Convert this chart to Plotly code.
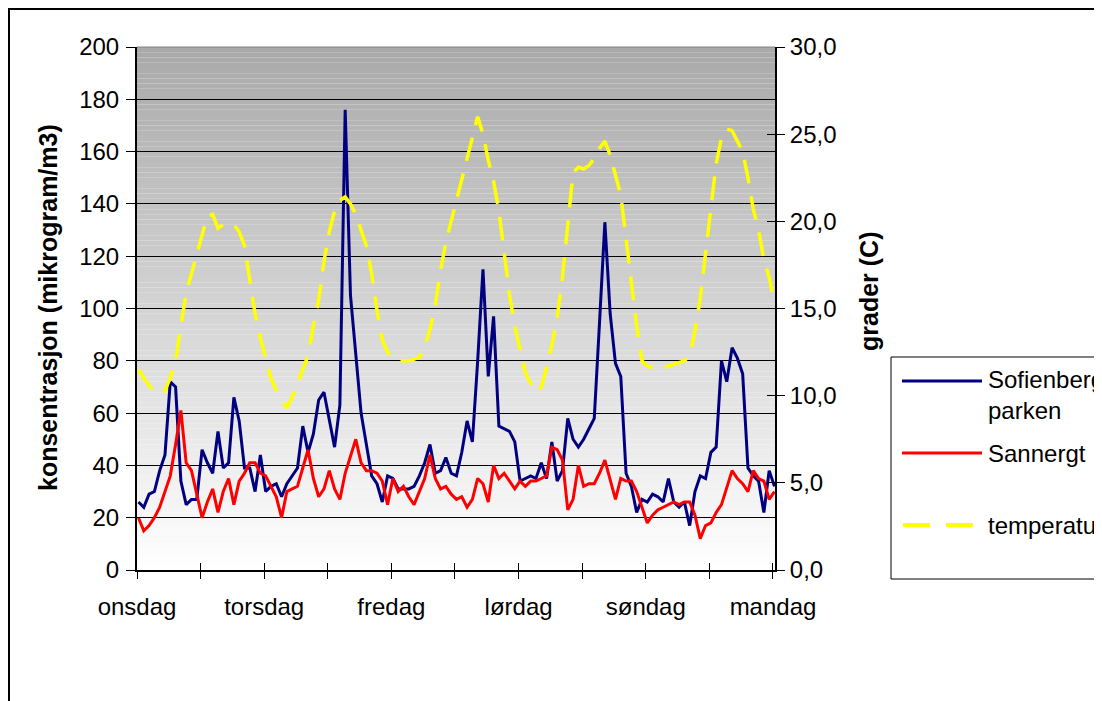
import plotly.graph_objects as go

# ---------------- data (hourly values, onsdag 00 -> mandag 00) ----------------
hours = list(range(121))
day_labels = ["onsdag", "torsdag", "fredag", "lørdag", "søndag", "mandag"]

sofienberg = [
    26, 24, 29, 30, 38, 44, 72, 70, 34, 25,
    27, 27, 46, 41, 37, 53, 39, 41, 66, 57,
    39, 39, 30, 44, 30, 32, 33, 28, 33, 36,
    39, 55, 45, 52, 65, 68, 57, 47, 63, 176,
    105, 82, 60, 48, 36, 33, 26, 36, 35, 31,
    31, 31, 32, 36, 41, 48, 37, 38, 43, 37,
    36, 45, 57, 49, 80, 115, 74, 97, 55, 54,
    53, 49, 34, 35, 36, 35, 41, 35, 49, 34,
    38, 58, 50, 47, 50, 54, 58, 95, 133, 98,
    79, 74, 37, 32, 22, 27, 26, 29, 28, 26,
    35, 26, 24, 26, 17, 30, 36, 35, 45, 47,
    80, 72, 85, 81, 75, 39, 36, 34, 22, 38,
    32,
]

sannergt = [
    20, 15, 17, 20, 24, 30, 36, 48, 61, 41,
    38, 29, 20, 26, 31, 22, 30, 35, 25, 34,
    37, 41, 41, 37, 36, 32, 28, 20, 30, 31,
    32, 39, 46, 35, 28, 31, 38, 31, 27, 37,
    44, 50, 41, 38, 38, 37, 34, 25, 35, 30,
    32, 28, 25, 30, 35, 44, 35, 31, 32, 29,
    27, 28, 24, 27, 35, 33, 26, 40, 35, 37,
    34, 31, 34, 32, 34, 34, 35, 36, 47, 46,
    42, 23, 27, 40, 32, 33, 33, 37, 42, 35,
    27, 35, 34, 34, 30, 24, 18, 21, 23, 24,
    25, 26, 25, 26, 26, 21, 12, 17, 18, 22,
    25, 32, 38, 35, 33, 30, 38, 35, 34, 27,
    30,
]

temperatur = [
    11.5, 11.0, 10.6, 10.2, 10.1, 10.3, 11.0, 12.0, 14.0, 15.9,
    17.0, 18.1, 19.1, 20.3, 20.4, 19.6, 19.8, 19.9, 19.8, 19.4,
    18.6, 16.7, 14.7, 13.3, 12.1, 11.0, 10.3, 9.8, 9.3, 9.9,
    10.7, 11.5, 12.3, 14.0, 15.5, 17.7, 19.4, 20.6, 21.2, 21.4,
    21.0, 20.4, 19.5, 18.6, 17.0, 14.9, 13.2, 12.5, 12.1, 12.0,
    12.0, 12.0, 12.1, 12.2, 12.8, 13.8, 15.2, 17.2, 18.8, 20.0,
    21.4, 22.5, 23.8, 25.0, 26.0, 25.0, 23.5, 22.3, 20.6, 18.2,
    15.8, 14.0, 12.6, 11.3, 10.7, 10.2, 10.5, 11.6, 12.9, 14.5,
    16.8, 20.0, 22.8, 23.1, 23.0, 23.2, 23.6, 24.2, 24.6, 23.8,
    22.6, 21.5, 19.0, 16.5, 14.0, 12.0, 11.7, 11.6, 11.5, 11.6,
    11.7, 11.8, 11.9, 12.0, 12.3, 13.7, 15.6, 18.3, 21.0, 23.3,
    24.8, 25.3, 25.2, 24.6, 24.0, 22.5, 20.7, 19.5, 17.8, 16.8,
    15.3,
]

left_ticks = list(range(0, 201, 20))
right_ticks = list(range(0, 31, 5))
right_ticktext = [f"{v},0" for v in right_ticks]

series_names = ["Sofienberg<br>parken", "Sannergt", "temperatur"]

# ---------------- styling ----------------
OFF = 8                       # page body margin of the html page
W, H = 1102 - OFF, 701 - OFF
# plot area in screen pixels
SL, SR, ST, SB = 137, 775, 47, 570
FONT = "Liberation Sans, Arial, sans-serif"
BLUE, RED, YELLOW = "#000080", "#FF0000", "#FFFF00"

X0, X1 = -0.28, 120.1
tick_pos = [12 * k + X0 for k in range(11)]
tick_txt = []
for k in range(11):
    tick_txt.append(day_labels[k // 2] if k % 2 == 0 else "")


def px_x(p):
    return (p - SL) / (SR - SL)


def px_y(p):
    return (SB - p) / (SB - ST)


fig = go.Figure()

fig.add_trace(go.Scatter(x=hours, y=sofienberg, mode="lines", name="Sofienberg-parken",
                         line=dict(color=BLUE, width=3), xaxis="x", yaxis="y"))
fig.add_trace(go.Scatter(x=hours, y=sannergt, mode="lines", name="Sannergt",
                         line=dict(color=RED, width=3), xaxis="x", yaxis="y"))
fig.add_trace(go.Scatter(x=hours, y=temperatur, mode="lines", name="temperatur",
                         line=dict(color=YELLOW, width=3.5, dash="24px,13px"),
                         xaxis="x", yaxis="y2"))
# helper traces so that the tick-only overlay axes get drawn
fig.add_trace(go.Scatter(x=[None], y=[None], xaxis="x2", yaxis="y", showlegend=False, hoverinfo="skip"))
fig.add_trace(go.Scatter(x=[None], y=[None], xaxis="x", yaxis="y3", showlegend=False, hoverinfo="skip"))
fig.add_trace(go.Scatter(x=[None], y=[None], xaxis="x", yaxis="y4", showlegend=False, hoverinfo="skip"))

tickfont = dict(family=FONT, size=24, color="black")

shapes = []
# background gradient (dark grey at top -> white at bottom)
n_bands = 100
for i in range(n_bands):
    v0 = 200 * i / n_bands
    v1 = 200 * (i + 1) / n_bands
    g = round(255 - 86 * ((v0 + v1) / 2) / 200)
    shapes.append(dict(type="rect", xref="paper", yref="y", x0=0, x1=1, y0=v0, y1=v1,
                       fillcolor=f"rgb({g},{g},{g})", line=dict(width=0), layer="below"))
# top edge of plot area
shapes.append(dict(type="line", xref="paper", yref="paper", x0=0, x1=1, y0=1, y1=1,
                   line=dict(color="#808080", width=1)))
# outer chart border
shapes.append(dict(type="rect", xref="paper", yref="paper",
                   x0=px_x(9), x1=px_x(1120), y0=px_y(720), y1=px_y(9),
                   line=dict(color="black", width=2), fillcolor="rgba(0,0,0,0)"))
# legend box
shapes.append(dict(type="rect", xref="paper", yref="paper",
                   x0=px_x(891), x1=px_x(1120), y0=px_y(579), y1=px_y(357),
                   line=dict(color="black", width=1), fillcolor="white"))
leg_rows = [381, 453, 525]
leg_cols = [BLUE, RED, YELLOW]
for i, (yy, col) in enumerate(zip(leg_rows, leg_cols)):
    if i < 2:
        shapes.append(dict(type="line", xref="paper", yref="paper",
                           x0=px_x(902), x1=px_x(982), y0=px_y(yy), y1=px_y(yy),
                           line=dict(color=col, width=3)))
    else:
        shapes.append(dict(type="line", xref="paper", yref="paper",
                           x0=px_x(903), x1=px_x(980), y0=px_y(yy), y1=px_y(yy),
                           line=dict(color=col, width=4, dash="27px,16px")))

annotations = [
    dict(text="<b>konsentrasjon (mikrogram/m3)</b>", textangle=-90, xref="paper", yref="paper",
         x=px_x(48), y=px_y(308), showarrow=False, xanchor="center", yanchor="middle",
         font=dict(family=FONT, size=25, color="black")),
    dict(text="<b>grader (C)</b>", textangle=-90, xref="paper", yref="paper",
         x=px_x(869), y=px_y(292), showarrow=False, xanchor="center", yanchor="middle",
         font=dict(family=FONT, size=25, color="black")),
    dict(text=series_names[0], xref="paper", yref="paper", x=px_x(986), y=px_y(395),
         showarrow=False, xanchor="left", yanchor="middle", align="left",
         font=dict(family=FONT, size=24, color="black")),
    dict(text=series_names[1], xref="paper", yref="paper", x=px_x(986), y=px_y(453),
         showarrow=False, xanchor="left", yanchor="middle", align="left",
         font=dict(family=FONT, size=24, color="black")),
    dict(text=series_names[2], xref="paper", yref="paper", x=px_x(986), y=px_y(525),
         showarrow=False, xanchor="left", yanchor="middle", align="left",
         font=dict(family=FONT, size=24, color="black")),
]

fig.update_layout(
    width=W, height=H,
    margin=dict(l=SL - OFF, r=(W + OFF) - SR, t=ST - OFF, b=(H + OFF) - SB, pad=0),
    paper_bgcolor="white",
    plot_bgcolor="rgba(0,0,0,0)",
    showlegend=False,
    font=dict(family=FONT, size=24, color="black"),
    xaxis=dict(range=[X0, X1], tickmode="array", tickvals=tick_pos, ticktext=tick_txt,
               ticks="outside", ticklen=7, tickwidth=1, tickcolor="black",
               showline=True, linecolor="black", linewidth=2, showgrid=False, zeroline=False,
               tickfont=tickfont, ticklabelstandoff=7),
    xaxis2=dict(range=[X0, X1], overlaying="x", anchor="y", side="bottom",
                tickmode="array", tickvals=tick_pos, ticks="inside", ticklen=7, tickwidth=1,
                tickcolor="black", showticklabels=False, showline=False, showgrid=False,
                zeroline=False),
    yaxis=dict(range=[0, 200], tickmode="array", tickvals=left_ticks,
               ticks="outside", ticklen=9, tickwidth=1, tickcolor="black",
               showline=True, linecolor="black", linewidth=2,
               showgrid=True, gridcolor="black", gridwidth=1, zeroline=False,
               tickfont=tickfont, ticklabelstandoff=2),
    yaxis2=dict(range=[0, 30], overlaying="y", side="right", anchor="x",
                tickmode="array", tickvals=right_ticks, ticktext=right_ticktext,
                ticks="outside", ticklen=8, tickwidth=1, tickcolor="black",
                showline=True, linecolor="black", linewidth=2, showgrid=False, zeroline=False,
                tickfont=tickfont, ticklabelstandoff=0),
    yaxis3=dict(range=[0, 200], overlaying="y", side="left", anchor="x",
                tickmode="array", tickvals=left_ticks, ticks="inside", ticklen=8, tickwidth=1,
                tickcolor="black", showticklabels=False, showline=False, showgrid=False,
                zeroline=False),
    yaxis4=dict(range=[0, 30], overlaying="y", side="right", anchor="x",
                tickmode="array", tickvals=right_ticks, ticks="inside", ticklen=8, tickwidth=1,
                tickcolor="black", showticklabels=False, showline=False, showgrid=False,
                zeroline=False),
    shapes=shapes,
    annotations=annotations,
)

fig.write_html("out.html")
